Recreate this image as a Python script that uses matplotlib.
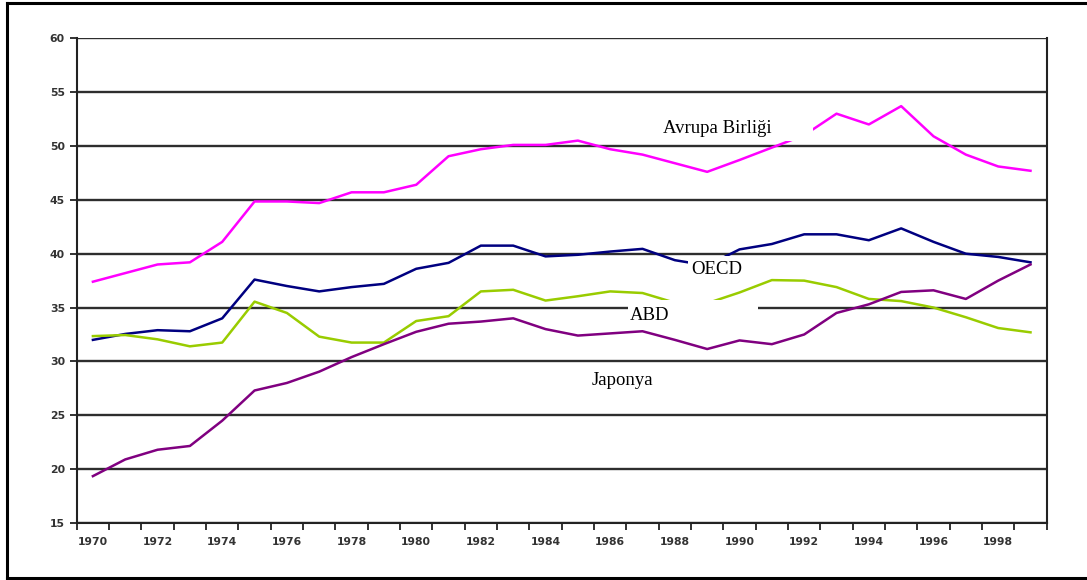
import numpy as np
import matplotlib
matplotlib.use('Agg')
import matplotlib.pyplot as plt
from matplotlib.patches import Rectangle
from matplotlib.lines import Line2D

years = list(range(1970, 2000))

avrupa = [37.4, 38.2, 39.0, 39.2, 41.1, 44.85, 44.85, 44.7, 45.7, 45.7,
          46.4, 49.05, 49.7, 50.1, 50.1, 50.5, 49.7, 49.2, 48.4, 47.6,
          48.7, 49.85, 51.0, 53.0, 52.0, 53.7, 50.9, 49.2, 48.1, 47.7]
oecd = [32.0, 32.55, 32.9, 32.8, 34.0, 37.6, 37.0, 36.5, 36.9, 37.2,
        38.6, 39.15, 40.75, 40.75, 39.75, 39.9, 40.2, 40.45, 39.4, 38.9,
        40.4, 40.9, 41.8, 41.8, 41.25, 42.35, 41.1, 40.0, 39.7, 39.2]
abd = [32.35, 32.45, 32.05, 31.4, 31.75, 35.55, 34.5, 32.3, 31.75, 31.75,
       33.75, 34.2, 36.5, 36.65, 35.65, 36.05, 36.5, 36.35, 35.45, 35.4,
       36.4, 37.55, 37.5, 36.9, 35.8, 35.6, 35.0, 34.1, 33.1, 32.7]
japonya = [19.35, 20.9, 21.8, 22.15, 24.5, 27.3, 28.0, 29.05, 30.4, 31.6,
           32.75, 33.5, 33.7, 34.0, 33.0, 32.4, 32.6, 32.8, 32.0, 31.15,
           31.95, 31.6, 32.5, 34.5, 35.3, 36.45, 36.6, 35.8, 37.5, 39.0]

x = np.arange(len(years))

fig = plt.figure(figsize=(10.87, 5.80), dpi=100)
ax = fig.add_axes([0.0706, 0.0983, 0.8923, 0.8357])

ax.plot(x, avrupa, color='#ff00ff', lw=1.8, zorder=2)
ax.plot(x, oecd, color='#000080', lw=1.8, zorder=2)
ax.plot(x, abd, color='#99cc00', lw=1.8, zorder=2)
ax.plot(x, japonya, color='#800080', lw=1.8, zorder=2)

ax.set_xlim(-0.5, len(years) - 0.5)
ax.set_ylim(15, 60)
ax.set_yticks(np.arange(15, 61, 5))
ax.yaxis.grid(True, color='#2e2e2e', lw=1.7)
ax.set_axisbelow(True)

# tick marks between categories, labels on every second year
ax.set_xticks(np.arange(-0.5, len(years), 1))
ax.set_xticklabels([])
ax.set_xticks(x[::2], minor=True)
ax.set_xticklabels([str(y) for y in years[::2]], minor=True)
ax.tick_params(axis='x', which='major', length=5, width=1.3, color='#222222')
ax.tick_params(axis='x', which='minor', length=0, pad=10,
               labelsize=7.8, labelcolor='#333333')
ax.tick_params(axis='y', length=5, width=1.3, color='#222222',
               labelsize=7.8, labelcolor='#333333')
for lab in ax.get_xticklabels(minor=True) + ax.get_yticklabels():
    lab.set_fontweight('bold')

ax.spines['top'].set_visible(False)
for s in ['left', 'right', 'bottom']:
    ax.spines[s].set_color('#222222')
    ax.spines[s].set_linewidth(1.5)

# white label boxes drawn over the lines
boxes = [(17.53, 50.47, 4.75, 2.45),
         (18.4, 37.4, 1.85, 2.4),
         (16.54, 33.1, 4.02, 2.57)]
for bx, by, bw, bh in boxes:
    ax.add_patch(Rectangle((bx, by), bw, bh, facecolor='white',
                           edgecolor='none', zorder=3))

font = dict(family='Liberation Serif', fontsize=13.5, color='black',
            va='center', ha='left', zorder=4)
ax.text(17.62, 51.67, 'Avrupa Birliği', **font)
ax.text(18.52, 38.55, 'OECD', **font)
ax.text(16.6, 34.3, 'ABD', **font)
ax.text(15.43, 28.27, 'Japonya', **font)

# outer frame: left, top and bottom edges
fl, ft, fb = 7 / 1087, 1 - 3 / 580, 2.5 / 580
for xs, ys in [([fl, fl], [fb, ft]), ([fl, 1], [ft, ft]), ([fl, 1], [fb, fb])]:
    fig.add_artist(Line2D(xs, ys, transform=fig.transFigure,
                          color='black', lw=2.2, solid_capstyle='projecting'))

fig.savefig('out.png', dpi=100)
